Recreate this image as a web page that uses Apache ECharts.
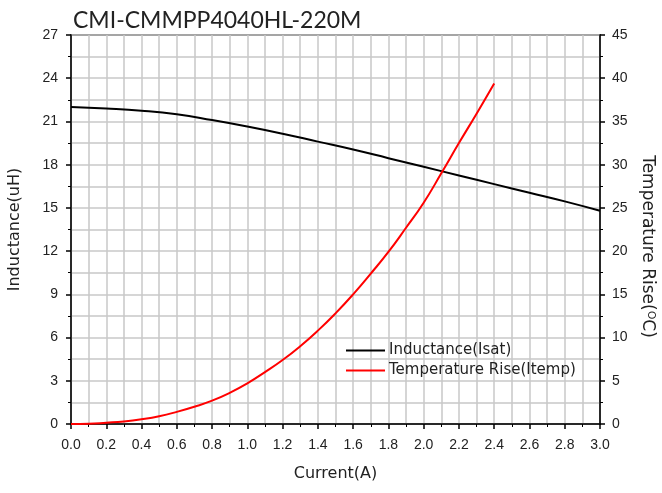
<!DOCTYPE html>
<html><head><meta charset="utf-8">
<script src="https://cdn.jsdelivr.net/npm/echarts@6/dist/echarts.min.js"></script>
<style>html,body{margin:0;padding:0;background:#fff}#c{width:662px;height:493px}</style>
</head><body><div id="c"></div>
<script>
const title = 'CMI-CMMPP4040HL-220M';
const indCurrent = [0,0.2,0.4,0.6,0.8,1.0,1.2,1.4,1.6,1.8,2.0,2.2,2.4,2.6,2.8,3.0];
const inductance = [22.0,21.9,21.75,21.5,21.1,20.65,20.15,19.6,19.05,18.45,17.85,17.25,16.65,16.05,15.45,14.8];
const tempCurrent = [0,0.1,0.2,0.3,0.4,0.5,0.6,0.7,0.8,0.9,1.0,1.1,1.2,1.3,1.4,1.5,1.6,1.7,1.8,1.9,2.0,2.1,2.2,2.3,2.4];
const tempRise = [0,0.03,0.15,0.3,0.55,0.9,1.4,2.0,2.7,3.6,4.7,6.0,7.4,9.0,10.8,12.8,15.0,17.4,19.9,22.7,25.6,29.0,32.5,35.9,39.4];
const seriesNames = ['Inductance(Isat)','Temperature Rise(Itemp)'];

const chart = echarts.init(document.getElementById('c'), null, {renderer:'canvas'});
const axisFont = {color:'#222', fontSize:14, fontFamily:'Liberation Sans, Arial, sans-serif'};
const nameFont = {color:'#222', fontSize:16, fontFamily:'DejaVu Sans, sans-serif'};
chart.setOption({
  animation:false,
  backgroundColor:'#fff',
  title:{text:title, left:68, top:4, textStyle:{fontSize:23, fontWeight:'normal', color:'#222', fontFamily:'Lato, sans-serif'}},
  grid:{left:71, right:62, top:35, bottom:69, outerBoundsMode:'none', containLabel:false, show:true, borderColor:'#000', borderWidth:1.5, backgroundColor:'transparent'},
  legend:{orient:'vertical', left:341, top:338, itemGap:5, itemWidth:39, itemHeight:2, icon:'rect',
    textStyle:{fontSize:15, color:'#222', fontFamily:'DejaVu Sans, sans-serif', padding:[0,0,0,-1]},
    data:seriesNames},
  xAxis:{type:'value', min:0, max:3, interval:0.2,
    name:'Current(A)', nameLocation:'middle', nameGap:42, nameTextStyle:nameFont,
    axisLine:{lineStyle:{color:'#000', width:1.5}},
    axisTick:{show:true, length:5, lineStyle:{color:'#000', width:1.5}},
    minorTick:{show:true, splitNumber:2, length:3, lineStyle:{color:'#000', width:1}},
    splitLine:{show:true, lineStyle:{color:'#c8c8c8', width:1.5}},
    minorSplitLine:{show:true, lineStyle:{color:'#c8c8c8', width:1.5}},
    axisLabel:Object.assign({margin:14, formatter:v=>v.toFixed(1)}, axisFont)},
  yAxis:[
    {type:'value', min:0, max:27, interval:3, position:'left',
     name:'Inductance(uH)', nameLocation:'middle', nameGap:48, nameTextStyle:nameFont,
     axisLine:{show:true, lineStyle:{color:'#000', width:1.5}},
     axisTick:{show:true, length:5, lineStyle:{color:'#000', width:1.5}},
     minorTick:{show:true, splitNumber:2, length:3, lineStyle:{color:'#000', width:1}},
     splitLine:{show:true, lineStyle:{color:'#c8c8c8', width:1.5}},
     minorSplitLine:{show:true, lineStyle:{color:'#c8c8c8', width:1.5}},
     axisLabel:Object.assign({margin:13}, axisFont)},
    {type:'value', min:0, max:45, interval:5, position:'right',
     name:'{a|Temperature Rise(}{s|O}{a|C)}', nameLocation:'middle', nameGap:37, nameRotate:-90,
     nameTextStyle:{padding:[0,0,0,34], rich:{a:{fontSize:17, color:'#222', fontFamily:'DejaVu Sans, sans-serif'}, s:{fontSize:11, color:'#222', fontFamily:'DejaVu Sans, sans-serif', verticalAlign:'top', padding:[0,0,8,0]}}},
     axisLine:{show:true, lineStyle:{color:'#000', width:1.5}},
     axisTick:{show:true, length:5, lineStyle:{color:'#000', width:1.5}},
     minorTick:{show:true, splitNumber:2, length:3, lineStyle:{color:'#000', width:1}},
     splitLine:{show:false}, minorSplitLine:{show:false},
     axisLabel:Object.assign({margin:12}, axisFont)}
  ],
  series:[
    {name:seriesNames[0], type:'line', yAxisIndex:0, smooth:true, symbol:'none',
     lineStyle:{color:'#000', width:2}, itemStyle:{color:'#000'},
     data:indCurrent.map((x,i)=>[x, inductance[i]])},
    {name:seriesNames[1], type:'line', yAxisIndex:1, smooth:true, symbol:'none',
     lineStyle:{color:'#ff0000', width:2}, itemStyle:{color:'#ff0000'},
     data:tempCurrent.map((x,i)=>[x, tempRise[i]])}
  ]
});
</script></body></html>
